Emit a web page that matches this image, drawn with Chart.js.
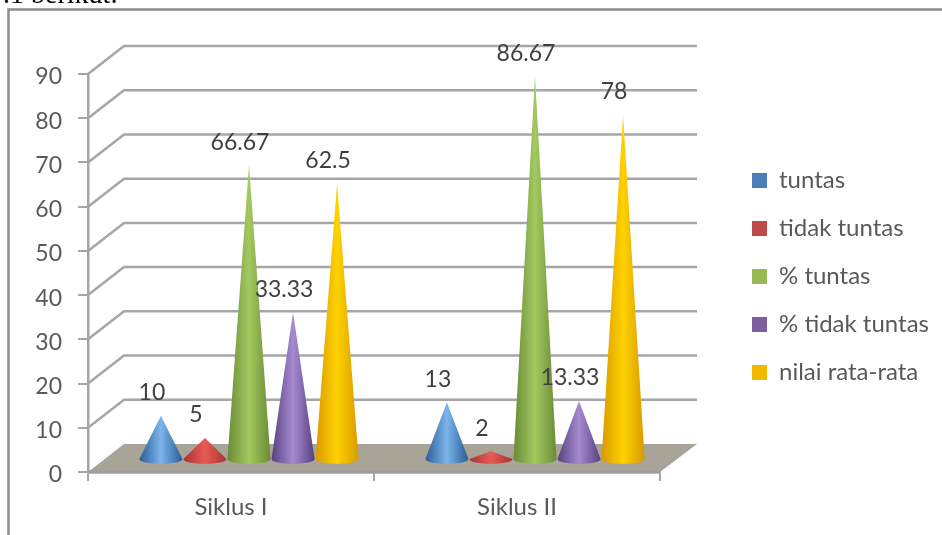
<!DOCTYPE html>
<html>
<head>
<meta charset="utf-8">
<style>
html,body{margin:0;padding:0;background:#fff;width:942px;height:535px;overflow:hidden}
#wrap{position:relative;width:942px;height:535px;overflow:hidden}
canvas{position:absolute;left:0;top:0;filter:blur(0.5px)}
#cap{position:absolute;left:3px;top:-20px;font:28px "Liberation Serif",serif;color:#000;line-height:28px}
</style>
</head>
<body>
<div id="wrap">
<canvas id="c" width="942" height="535"></canvas>
<div id="cap">.1 berikut:</div>
</div>
<script src="https://cdn.jsdelivr.net/npm/chart.js@4"></script>
<script>
const categories = ["Siklus I", "Siklus II"];
const tuntas = [10, 13];
const tidakTuntas = [5, 2];
const persenTuntas = [66.67, 86.67];
const persenTidakTuntas = [33.33, 13.33];
const nilaiRataRata = [62.5, 78];
const yTicks = [0,10,20,30,40,50,60,70,80,90];

const seriesStyle = [
  {label:"tuntas", data:tuntas, swatch:"#4a7ebb", dark:"#2a5d96", mid:"#7db4ec"},
  {label:"tidak tuntas", data:tidakTuntas, swatch:"#be4b48", dark:"#a83432", mid:"#e95a56"},
  {label:"% tuntas", data:persenTuntas, swatch:"#98b954", dark:"#6a8a35", mid:"#a3ca60"},
  {label:"% tidak tuntas", data:persenTidakTuntas, swatch:"#7d5fa0", dark:"#56407f", mid:"#a78bd2"},
  {label:"nilai rata-rata", data:nilaiRataRata, swatch:"#f5b800", dark:"#d99a00", mid:"#ffd200"}
];

const depthX = 36, depthY = 28;
const coneDX = 18, coneDY = 12;
const wallColor = "#a6a6a6";
const textColor = "#595959";
const fontFamily = "Lato, 'Open Sans', sans-serif";

class ConeElement extends Chart.BarElement {
  draw(ctx) {
    const p = this.getProps(["x","y","base","width"], true);
    const cx = p.x + coneDX, top = p.y - coneDY, bot = p.base - coneDY;
    const r = p.width / 2 - 0.5, ry = 5;
    const s = this.coneStyle;
    const g = ctx.createLinearGradient(cx - r, 0, cx + r, 0);
    g.addColorStop(0, s.dark);
    g.addColorStop(0.5, s.mid);
    g.addColorStop(1, s.dark);
    ctx.save();
    ctx.fillStyle = g;
    ctx.beginPath();
    ctx.moveTo(cx, top);
    ctx.lineTo(cx + r, bot);
    ctx.ellipse(cx, bot, r, ry, 0, 0, Math.PI);
    ctx.closePath();
    ctx.fill();
    ctx.restore();
  }
}
ConeElement.id = "cone";
ConeElement.defaults = Chart.BarElement.defaults;
ConeElement.defaultRoutes = Chart.BarElement.defaultRoutes;

class ConeController extends Chart.BarController {
  update(mode) {
    super.update(mode);
    this.getMeta().data.forEach(el => { el.coneStyle = seriesStyle[this.index]; });
  }
}
ConeController.id = "cone";
ConeController.defaults = Object.assign({}, Chart.BarController.defaults, {dataElementType:"cone"});
ConeController.overrides = Chart.BarController.overrides;
Chart.register(ConeElement, ConeController);

const stage3d = {
  id:"stage3d",
  beforeLayout(chart){
    const l = chart.legend;
    if (!l.$patched) {
      const fit = l.fit;
      l.fit = function(){ fit.call(this); this.width = 282; };
      l.$patched = true;
    }
  },
  afterLayout(chart){
    const l = chart.legend;
    l.left = 752 - l.options.labels.padding;
    l.right = 942;
    l.top = 0; l.bottom = 553;
  },
  beforeDraw(chart){
    const c = chart.ctx;
    c.save();
    c.strokeStyle = "#8c8c8c";
    c.lineWidth = 2.5;
    c.beginPath();
    c.moveTo(8.5, 535); c.lineTo(8.5, 9.5); c.lineTo(942, 9.5);
    c.stroke();
    c.restore();
  },
  beforeDatasetsDraw(chart){
    const c = chart.ctx, y = chart.scales.y, a = chart.chartArea;
    c.save();
    c.strokeStyle = wallColor;
    c.lineWidth = 2.5;
    y.ticks.forEach(t => {
      if (t.value === 0) return;
      const py = y.getPixelForValue(t.value);
      c.beginPath();
      c.moveTo(a.left, py);
      c.lineTo(a.left + depthX, py - depthY);
      c.lineTo(a.right + depthX + 1, py - depthY);
      c.stroke();
    });
    const y0 = y.getPixelForValue(0);
    c.fillStyle = "#a8a498";
    c.beginPath();
    c.moveTo(a.left, y0);
    c.lineTo(a.left + depthX, y0 - depthY);
    c.lineTo(a.right + depthX + 1, y0 - depthY);
    c.lineTo(a.right, y0);
    c.closePath();
    c.fill();
    c.strokeStyle = "#9e9e9e";
    c.lineWidth = 3;
    c.beginPath();
    c.moveTo(a.left, y0); c.lineTo(a.right, y0);
    c.stroke();
    c.restore();
  },
  afterDatasetsDraw(chart){
    const c = chart.ctx;
    c.save();
    c.fillStyle = "#404040";
    c.font = "23px " + fontFamily;
    c.textAlign = "center";
    c.textBaseline = "middle";
    chart.data.datasets.forEach((ds,i) => {
      chart.getDatasetMeta(i).data.forEach((el,j) => {
        c.fillText(String(ds.data[j]), el.x + 9, el.y - coneDY - 23);
      });
    });
    c.restore();
  }
};

new Chart(document.getElementById("c"), {
  type:"cone",
  data:{
    labels:categories,
    datasets:seriesStyle.map(s => ({
      label:s.label, data:s.data,
      backgroundColor:s.swatch, borderColor:s.swatch,
      categoryPercentage:0.77, barPercentage:1
    }))
  },
  options:{
    responsive:false,
    animation:false,
    events:[],
    layout:{padding:{left:30,right:0,top:74,bottom:0}},
    scales:{
      x:{
        afterFit(s){ s.height = 63; },
        grid:{color:"#a6a6a6",lineWidth:2,drawOnChartArea:false,tickLength:9,offset:true},
        border:{color:"#a6a6a6",width:2.5},
        ticks:{color:textColor,font:{family:fontFamily,size:24},padding:12}
      },
      y:{
        min:0,max:90,
        afterBuildTicks(s){ s.ticks = yTicks.map(v => ({value:v})); },
        afterFit(s){ s.width = 58; },
        grid:{color:"#a6a6a6",lineWidth:2,drawOnChartArea:false,tickLength:10},
        border:{color:"#a6a6a6",width:2.5},
        ticks:{color:textColor,font:{family:fontFamily,size:23},padding:16,labelOffset:3}
      }
    },
    plugins:{
      tooltip:{enabled:false},
      legend:{
        position:"right",
        labels:{
          boxWidth:15,boxHeight:15,padding:24,color:textColor,
          font:{family:fontFamily,size:24}
        }
      }
    }
  },
  plugins:[stage3d]
});
</script>
</body>
</html>
